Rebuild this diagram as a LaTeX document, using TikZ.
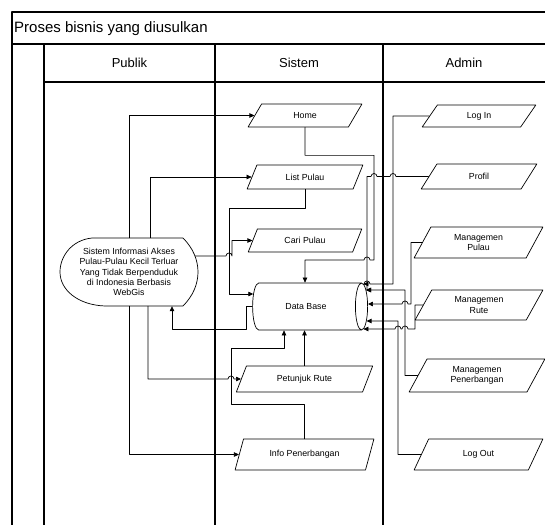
\documentclass[tikz,border=0pt]{standalone}
\usepackage{fontspec}
\setmainfont{Liberation Sans}
\usetikzlibrary{shapes.geometric,arrows.meta,calc}

\tikzset{
  proc/.style={trapezium, trapezium left angle=64, trapezium right angle=116,
    trapezium stretches=true, draw, line width=0.7pt, inner sep=1pt,
    font=\fontsize{8.8}{10.3}\selectfont, align=center},
  conn/.style={line width=0.7pt, -{Triangle[length=5pt,width=4.5pt]}},
  wire/.style={line width=0.7pt},
  lane/.style={line width=1.1pt},
}

\begin{document}
\begin{tikzpicture}[x=1pt,y=-1pt,line cap=round,line join=round]
  \useasboundingbox (0,0) rectangle (545,524);
  \clip (0,0) rectangle (545,524);
  % swimlanes
  \draw[lane] (12,530) -- (12,12) -- (550,12);
  \draw[lane] (12,44) -- (550,44);
  \draw[lane] (44,82) -- (550,82);
  \draw[lane] (44,44) -- (44,530);
  \draw[lane] (215,44) -- (215,530);
  \draw[lane] (383,44) -- (383,530);
  \node[anchor=west, inner sep=0pt, font=\fontsize{15}{18}\selectfont] (judul) at (14,28.5) {Proses bisnis yang diusulkan};
  \node[font=\fontsize{13}{15}\selectfont] (publik) at (129.5,63) {Publik};
  \node[font=\fontsize{13}{15}\selectfont] (sistem) at (299,63) {Sistem};
  \node[font=\fontsize{13}{15}\selectfont] (admin) at (464,63) {Admin};

  % publik
  \node[minimum width=138pt, minimum height=68pt, inner sep=0pt, align=center,
    font=\fontsize{8.8}{10.3}\selectfont] (sim) at (129,272)
    {Sistem Informasi Akses\\Pulau-Pulau Kecil Terluar\\Yang Tidak Berpenduduk\\di Indonesia Berbasis\\WebGis};
  \draw[wire] (183,238) -- (92,238) .. controls (72,240) and (60,256) .. (60,272)
    .. controls (60,290) and (78,305) .. (105,306) -- (183,306)
    .. controls (193,296) and (198,284) .. (198,272)
    .. controls (198,260) and (193,248) .. (183,238) -- cycle;

  % sistem
  \node[proc, minimum width=114pt, minimum height=23pt] (home) at (305,115.5) {Home};
  \node[proc, minimum width=116pt, minimum height=24pt] (list) at (305,177) {List Pulau};
  \node[proc, minimum width=114pt, minimum height=23pt] (cari) at (305,240.5) {Cari Pulau};
  \node[cylinder, draw, line width=0.7pt, shape border rotate=0, aspect=1.5,
    minimum width=47pt, minimum height=115pt, inner sep=1pt,
    font=\fontsize{8.8}{10.3}\selectfont] (db) at (306,306.5) {Data Base};
  \node[proc, minimum width=137pt, minimum height=26pt] (petunjuk) at (304.5,379) {Petunjuk Rute};
  \node[proc, minimum width=139pt, minimum height=31pt] (info) at (304.5,454.5) {Info Penerbangan};

  % admin
  \node[proc, minimum width=114pt, minimum height=22pt] (login) at (479,116) {Log In};
  \node[proc, minimum width=116pt, minimum height=25pt] (profil) at (479,176.5) {Profil};
  \node[proc, minimum width=129pt, minimum height=31pt] (mpulau) at (478.5,242.5) {Managemen\\Pulau};
  \node[proc, minimum width=128pt, minimum height=30pt] (mrute) at (479,305) {Managemen\\Rute};
  \node[proc, minimum width=136pt, minimum height=33pt] (mterbang) at (477,375.5) {Managemen\\Penerbangan};
  \node[proc, minimum width=129pt, minimum height=31pt] (logout) at (478.5,454.5) {Log Out};

  % publik -> sistem
  \draw[conn] (sim.north) |- (home.west);
  \draw[conn] ($(sim.north)+(21,0)$) |- (list.west);
  \draw[conn] ($(sim.east)+(-3,-16)$) -- (226,256) arc[start angle=180,end angle=0,radius=3pt] -- (232,256) |- (cari.west);
  \draw[conn] ($(sim.south)+(19,0)$) |- (228,379) arc[start angle=180,end angle=0,radius=3pt] -- (petunjuk.west);
  \draw[conn] (sim.south) |- (info.west);
  \draw[conn] (db.west) -- (246,306.5) -- (246,329) -| ($(sim.south)+(43,0)$);

  % sistem -> data base
  \draw[conn] (list.south) -- ++(0,19) -| (229,294) -- ($(db.west)+(1,-12.5)$);
  \draw[conn] (petunjuk.north) -- (petunjuk.north |- db.south);
  \draw[conn] (info.north) -- ++(0,-34) -| (231,348) -| ($(db.south)+(-22,0)$);
  \draw[conn] (home.south) -- ++(0,28) -| (374,260) -- (370,260)
    arc[start angle=0,end angle=180,radius=3pt] -- (364,260) -| ($(db.north)+(-1,0)$);

  % admin -> data base
  \draw[conn] (login.west) -| (393,284) -- (370,284)
    arc[start angle=0,end angle=180,radius=3pt] -- ($(db.east)+(-4.6,-22.5)$);
  \draw[conn] (profil.west) -- (396,176.5) arc[start angle=0,end angle=180,radius=3pt]
    -- (377,176.5) arc[start angle=0,end angle=180,radius=3pt]
    -- (367,176.5) -- (367,290) -- ($(db.east)+(-1.9,-16.5)$);
  \draw[conn] (mterbang.west) -| (405,290) -- ($(db.east)+(-1.9,-16.5)$);
  \draw[conn] (mpulau.west) -| (411,304) -- (408,304)
    arc[start angle=0,end angle=180,radius=3pt] -- ($(db.east)+(0,-2.5)$);
  \draw[conn] (mrute.west) -| (415,329) -- (408,329)
    arc[start angle=0,end angle=180,radius=3pt] -- (401,329)
    arc[start angle=0,end angle=180,radius=3pt] -- ($(db.east)+(-4.6,22.5)$);
  \draw[conn] (logout.west) -| (398,321) -- ($(db.east)+(-1.4,14.5)$);
\end{tikzpicture}
\end{document}
